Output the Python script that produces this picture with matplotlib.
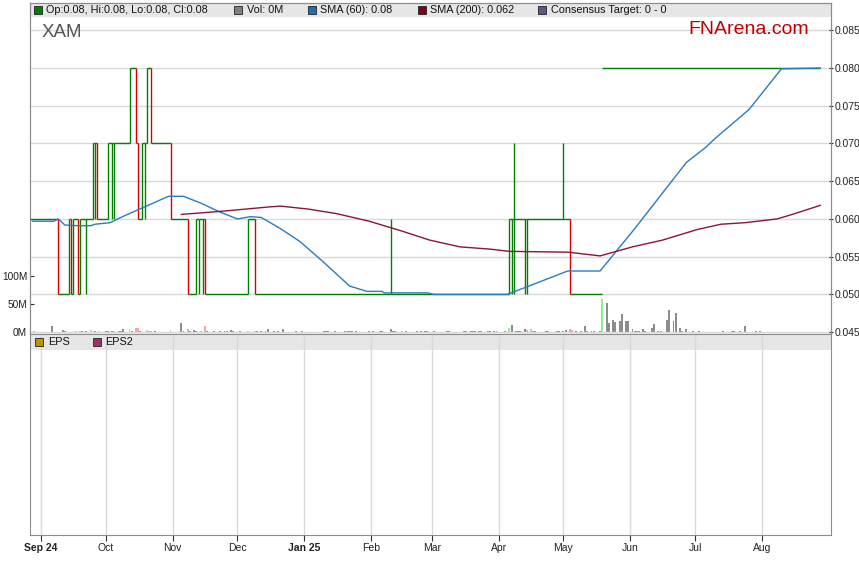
import numpy as np
import pandas as pd
import matplotlib
matplotlib.use("Agg")
import matplotlib.pyplot as plt
import matplotlib.dates as mdates
from matplotlib.patches import Rectangle

plt.rcParams["font.family"] = ["Liberation Sans", "DejaVu Sans"]

# price bars (only days where something happens)
bar_dates = ["2024-08-27", "2024-09-09", "2024-09-14", "2024-09-15", "2024-09-16",
             "2024-09-18", "2024-09-19", "2024-09-22", "2024-09-25", "2024-09-26",
             "2024-09-27", "2024-10-02", "2024-10-04", "2024-10-05", "2024-10-12",
             "2024-10-15", "2024-10-16", "2024-10-18", "2024-10-19", "2024-10-20",
             "2024-10-22", "2024-10-31", "2024-11-08", "2024-11-12", "2024-11-13",
             "2024-11-15", "2024-11-16", "2024-12-06", "2024-12-09", "2025-02-10",
             "2025-04-06", "2025-04-07", "2025-04-08", "2025-04-13", "2025-04-14",
             "2025-05-01", "2025-05-04", "2025-05-19", "2025-08-28"]
bar_open = [.06, .06, .05, .06, .05, .06, .05, .06, .06, .07,
            .07, .06, .07, .07, .07, .08, .07, .06, .07, .07,
            .08, .07, .06, .05, .06, .06, .06, .05, .06, .05,
            .05, .06, .06, .06, .06, .06, .06, .08, .08]
bar_high = [.06, .06, .06, .06, .06, .06, .06, .06, .07, .07,
            .07, .07, .07, .07, .08, .08, .07, .07, .07, .08,
            .08, .07, .06, .06, .06, .06, .06, .06, .06, .06,
            .06, .06, .07, .06, .06, .07, .06, .08, .08]
bar_low = [.06, .05, .05, .05, .05, .05, .05, .05, .06, .06,
           .06, .06, .06, .06, .07, .07, .06, .06, .06, .07,
           .07, .06, .05, .05, .05, .05, .05, .05, .05, .05,
           .05, .05, .05, .05, .05, .06, .05, .08, .08]
bar_close = [.06, .05, .06, .05, .06, .05, .06, .06, .07, .07,
             .06, .07, .07, .07, .08, .07, .06, .07, .07, .08,
             .07, .06, .05, .06, .06, .06, .05, .06, .05, .05,
             .06, .06, .06, .06, .06, .06, .05, .08, .08]

# moving averages
sma60_dates = ["2024-08-28", "2024-09-07", "2024-09-09", "2024-09-12", "2024-09-18",
               "2024-09-24", "2024-09-26", "2024-10-03", "2024-10-08", "2024-10-15",
               "2024-10-23", "2024-10-30", "2024-11-06", "2024-11-14", "2024-11-23",
               "2024-12-01", "2024-12-07", "2024-12-12", "2024-12-21", "2024-12-30",
               "2025-01-09", "2025-01-22", "2025-01-30", "2025-02-06", "2025-02-07",
               "2025-02-27", "2025-03-02", "2025-04-05", "2025-05-03", "2025-05-18",
               "2025-06-03", "2025-06-27", "2025-07-06", "2025-07-10", "2025-07-26",
               "2025-08-10", "2025-08-28"]
sma60 = [0.0597, 0.0597, 0.0600, 0.0592, 0.0591, 0.0591, 0.0593, 0.0595, 0.0602, 0.0611,
         0.0621, 0.0630, 0.0630, 0.0621, 0.0609, 0.0600, 0.0603, 0.0602, 0.0587, 0.0570,
         0.0545, 0.0511, 0.0504, 0.0504, 0.0502, 0.0502, 0.0500, 0.0500, 0.0531, 0.0531,
         0.0587, 0.0675, 0.0695, 0.0706, 0.0745, 0.0799, 0.0800]

sma200_dates = ["2024-11-05", "2024-11-23", "2024-12-16", "2024-12-21", "2025-01-03",
                "2025-01-16", "2025-01-31", "2025-02-14", "2025-02-28", "2025-03-14",
                "2025-03-28", "2025-04-06", "2025-05-03", "2025-05-18", "2025-06-02",
                "2025-06-16", "2025-07-02", "2025-07-13", "2025-07-24", "2025-08-08",
                "2025-08-15", "2025-08-28"]
sma200 = [0.0606, 0.0610, 0.0616, 0.0617, 0.0613, 0.0607, 0.0597, 0.0585, 0.0572, 0.0563,
          0.0560, 0.0557, 0.0556, 0.0551, 0.0563, 0.0572, 0.0586, 0.0593, 0.0595, 0.0600,
          0.0606, 0.0618]

# volume in millions, move: 1 up day, -1 down day, 0 unchanged
vol_dates = ["2024-08-29", "2024-09-06", "2024-09-11", "2024-09-12", "2024-09-17",
             "2024-09-19", "2024-09-20", "2024-09-22", "2024-09-24", "2024-09-26",
             "2024-09-28", "2024-10-01", "2024-10-02", "2024-10-04", "2024-10-05",
             "2024-10-07", "2024-10-08", "2024-10-09", "2024-10-12", "2024-10-13",
             "2024-10-15", "2024-10-16", "2024-10-17", "2024-10-20", "2024-10-21",
             "2024-10-22", "2024-10-24", "2024-10-31", "2024-11-05", "2024-11-06",
             "2024-11-08", "2024-11-09", "2024-11-11", "2024-11-12", "2024-11-14",
             "2024-11-16", "2024-11-17", "2024-11-20", "2024-11-23", "2024-11-25",
             "2024-11-26", "2024-11-28", "2024-11-29", "2024-12-02", "2024-12-06",
             "2024-12-09", "2024-12-10", "2024-12-12", "2024-12-14", "2024-12-15",
             "2024-12-18", "2024-12-20", "2024-12-22", "2024-12-28", "2024-12-31",
             "2025-01-10", "2025-01-11", "2025-01-12", "2025-01-15", "2025-01-20",
             "2025-01-21", "2025-01-22", "2025-01-23", "2025-01-25", "2025-01-31",
             "2025-02-02", "2025-02-05", "2025-02-06", "2025-02-10", "2025-02-11",
             "2025-02-12", "2025-02-15", "2025-02-17", "2025-02-22", "2025-02-24",
             "2025-02-26", "2025-02-27", "2025-03-02", "2025-03-08", "2025-03-09",
             "2025-03-16", "2025-03-17", "2025-03-19", "2025-03-20", "2025-03-21",
             "2025-03-23", "2025-03-24", "2025-03-27", "2025-03-28", "2025-03-30",
             "2025-03-31", "2025-04-04", "2025-04-06", "2025-04-07", "2025-04-09",
             "2025-04-10", "2025-04-11", "2025-04-13", "2025-04-14", "2025-04-16",
             "2025-04-17", "2025-04-18", "2025-04-23", "2025-04-24", "2025-04-28",
             "2025-04-29", "2025-05-01", "2025-05-02", "2025-05-04", "2025-05-05",
             "2025-05-07", "2025-05-09", "2025-05-11", "2025-05-12", "2025-05-14",
             "2025-05-15", "2025-05-18", "2025-05-19", "2025-05-21", "2025-05-22",
             "2025-05-24", "2025-05-25", "2025-05-27", "2025-05-28", "2025-05-30",
             "2025-05-31", "2025-06-02", "2025-06-03", "2025-06-04", "2025-06-05",
             "2025-06-07", "2025-06-08", "2025-06-11", "2025-06-12", "2025-06-14",
             "2025-06-15", "2025-06-18", "2025-06-19", "2025-06-21", "2025-06-22",
             "2025-06-24", "2025-06-25", "2025-06-27", "2025-06-30", "2025-07-03",
             "2025-07-14", "2025-07-18", "2025-07-19", "2025-07-22", "2025-07-24",
             "2025-07-29", "2025-07-31"]
vol_m = [2, 10, 3, 2, 2, 2, 1, 1.5, 3.5, 2,
         1.5, 1.5, 1.5, 1.5, 1.5, 1.5, 1.5, 5, 5, 1.5,
         8, 7, 1.5, 3, 1.5, 1.5, 1.5, 3.5, 16, 2,
         5, 2.5, 3, 2.5, 1.5, 10, 1.5, 2.5, 1.5, 1.5,
         2.5, 3, 1.5, 1.5, 1.5, 1.5, 1.5, 1.5, 2, 5,
         1.5, 1.5, 5, 1.5, 1.5, 1.5, 1.5, 1.5, 1.5, 1.5,
         1.5, 1.5, 1.5, 1.5, 1.5, 1.5, 1.5, 1.5, 4.8, 2.5,
         2.5, 2.5, 2.5, 1.5, 1.5, 1.5, 1.5, 1.5, 1.5, 1.5,
         1.5, 1.5, 2.5, 2, 2, 2, 2, 2, 2, 2,
         2, 2, 6.5, 12, 2, 2, 2, 5, 3, 6,
         1.5, 1.5, 2.5, 2.5, 2, 2, 2, 3, 5, 3,
         2.5, 2.5, 10, 2, 2, 2, 1.5, 59.5, 51.8, 16,
         22, 17.9, 19, 31.5, 20, 19, 4.8, 2, 1.5, 1.5,
         4.8, 2, 6.5, 13.7, 2, 2, 20.8, 38.7, 19, 34,
         6.5, 2, 4.8, 2, 1.5, 1.5, 1.5, 1.5, 1.5, 10,
         1.5, 1.5]
vol_move = [0, 0, 0, 0, -1, -1, 0, 0, 1, 0,
            1, 0, 0, 0, 1, 0, 0, 0, 1, 0,
            -1, -1, 0, 1, -1, -1, 0, -1, 0, 0,
            -1, 0, 0, 0, -1, -1, 0, 0, 0, 0,
            0, 0, 0, 0, 1, -1, 0, 0, 0, 0,
            0, 0, 0, 0, 0, 0, 0, 0, 0, 0,
            0, 0, 0, 0, 0, 0, 0, 0, 0, 0,
            0, 0, 0, 0, 0, 0, 0, 0, 0, 0,
            0, 0, 0, 0, 0, 0, 0, 0, 0, 0,
            0, 0, 1, 0, 0, 0, 0, 0, -1, 1,
            0, 0, 0, 0, 0, 0, 0, 0, -1, -1,
            0, 0, 0, 0, 0, 0, 0, 1, 0, 0,
            0, 0, 0, 0, 0, 0, 0, 0, 0, 0,
            0, 0, 0, 0, 0, 0, 0, 0, 0, 0,
            0, 0, 0, 0, 0, 0, 0, 0, 0, 0,
            0, 0]

month_ticks = pd.date_range("2024-09-01", "2025-08-01", freq="MS")
month_labels = ["Sep 24", "Oct", "Nov", "Dec", "Jan 25", "Feb", "Mar", "Apr",
                "May", "Jun", "Jul", "Aug"]
price_ticks = [0.045, 0.050, 0.055, 0.060, 0.065, 0.070, 0.075, 0.080, 0.085]
vol_ticks = [0, 50, 100]

GREEN = "#008000"
RED = "#dd0000"
SMA60_C = "#2b7bbf"
SMA200_C = "#8b1538"
GRID = "#d9d9d9"
SPINE = "#8c8c8c"
BAND = "#e6e6e6"


def d2n(d):
    return mdates.date2num(pd.to_datetime(d))


W, H = 859, 566
fig = plt.figure(figsize=(W / 100, H / 100), dpi=100)
ax_v = fig.add_axes([30 / W, 1 - 334 / H, 801 / W, 331 / H])
ax_p = ax_v.twinx()
ax_low = fig.add_axes([30 / W, 1 - 535 / H, 801 / W, 201 / H], sharex=ax_v)

xmin = d2n("2024-08-26 21:40")
xmax = d2n("2025-09-01 23:00")

# volume
vcol = {1: "#90ee90", -1: "#f4a3a3", 0: "#8c8c8c"}
ax_v.bar(d2n(vol_dates), vol_m, width=0.9, color=[vcol[m] for m in vol_move],
         linewidth=0, zorder=2)
ax_v.set_ylim(-3.6, 587.6)
ax_v.set_yticks(vol_ticks)
ax_v.set_yticklabels([f"{v}M" for v in vol_ticks])
ax_v.add_patch(Rectangle((0, 1 - 14 / 331), 1, 14 / 331, transform=ax_v.transAxes,
                         facecolor=BAND, edgecolor="none", zorder=0.2))

# price step line
bx = d2n(bar_dates)
closes = np.array(bar_close)
ax_p.hlines(closes[:-1], bx[:-1], bx[1:], color=GREEN, lw=1.0, zorder=3)
bcol = [RED if c < o else GREEN for o, c in zip(bar_open, bar_close)]
ax_p.vlines(bx, bar_low, bar_high, colors=bcol, lw=1.0, zorder=4)

ax_p.plot(d2n(sma60_dates), sma60, color=SMA60_C, lw=1.0, zorder=5)
ax_p.plot(d2n(sma200_dates), sma200, color=SMA200_C, lw=1.0, zorder=5)

ax_p.set_ylim(0.04475, 0.08862)
ax_p.set_yticks(price_ticks)
ax_p.set_yticklabels([f"{t:.3f}" for t in price_ticks])
ax_p.set_xlim(xmin, xmax)
ax_p.set_xticks(d2n(month_ticks))
ax_p.grid(True, color=GRID, lw=1.0)

for a in (ax_v, ax_p):
    a.tick_params(axis="x", length=0, labelbottom=False)
    for s in a.spines.values():
        s.set_color(SPINE)
ax_v.tick_params(axis="y", labelsize=7.3, length=3, direction="in", color="#333333",
                 labelcolor="#222222", pad=2)
ax_p.tick_params(axis="y", labelsize=7.4, length=3, direction="inout", color="#333333",
                 labelcolor="#222222", pad=1)

ax_p.text(0.015, 0.91, "XAM", transform=ax_p.transAxes, fontsize=13.5,
          color="#555555", va="center")
ax_p.text(0.8215, 0.92, "FNArena.com", transform=ax_p.transAxes, fontsize=14,
          color="#c00000", va="center")

# top legend band
top_items = [(0.0096, GREEN, "Op:0.08, Hi:0.08, Lo:0.08, Cl:0.08"),
             (0.260, "#808080", "Vol: 0M"),
             (0.3517, "#1f6fb0", "SMA (60): 0.08"),
             (0.489, "#800020", "SMA (200): 0.062"),
             (0.6396, "#5a5a8a", "Consensus Target: 0 - 0")]
ly = 1 - 7 / 331
for x, c, t in top_items:
    ax_p.plot([x], [ly], marker="s", ms=5.5, mfc=c, mec="#222222", mew=0.6,
              transform=ax_p.transAxes, clip_on=False, zorder=6)
    ax_p.text(x + 0.0105, ly, t, transform=ax_p.transAxes, fontsize=7.8,
              color="#111111", va="center", zorder=6)

# lower (EPS) panel
ax_low.set_xlim(xmin, xmax)
ax_low.set_xticks(d2n(month_ticks))
ax_low.set_xticklabels(month_labels)
for lab in ax_low.get_xticklabels():
    if " " in lab.get_text():
        lab.set_fontweight("bold")
ax_low.tick_params(axis="x", labelsize=7.5, length=4, color="#333333",
                   labelcolor="#222222", pad=2)
ax_low.set_yticks([])
ax_low.grid(True, axis="x", color=GRID, lw=1.0)
ax_low.set_axisbelow(True)
for s in ax_low.spines.values():
    s.set_color(SPINE)
ax_low.add_patch(Rectangle((0, 1 - 16 / 201), 1, 16 / 201, transform=ax_low.transAxes,
                           facecolor=BAND, edgecolor="none", zorder=0.2))
ey = 1 - 8 / 201
for x, c, t in [(0.0116, "#b8960b", "EPS"), (0.0833, "#993366", "EPS2")]:
    ax_low.plot([x], [ey], marker="s", ms=5.5, mfc=c, mec="#222222", mew=0.6,
                transform=ax_low.transAxes, clip_on=False, zorder=6)
    ax_low.text(x + 0.0105, ey, t, transform=ax_low.transAxes, fontsize=7.8,
                color="#111111", va="center", zorder=6)

fig.savefig("out.png", dpi=100)
